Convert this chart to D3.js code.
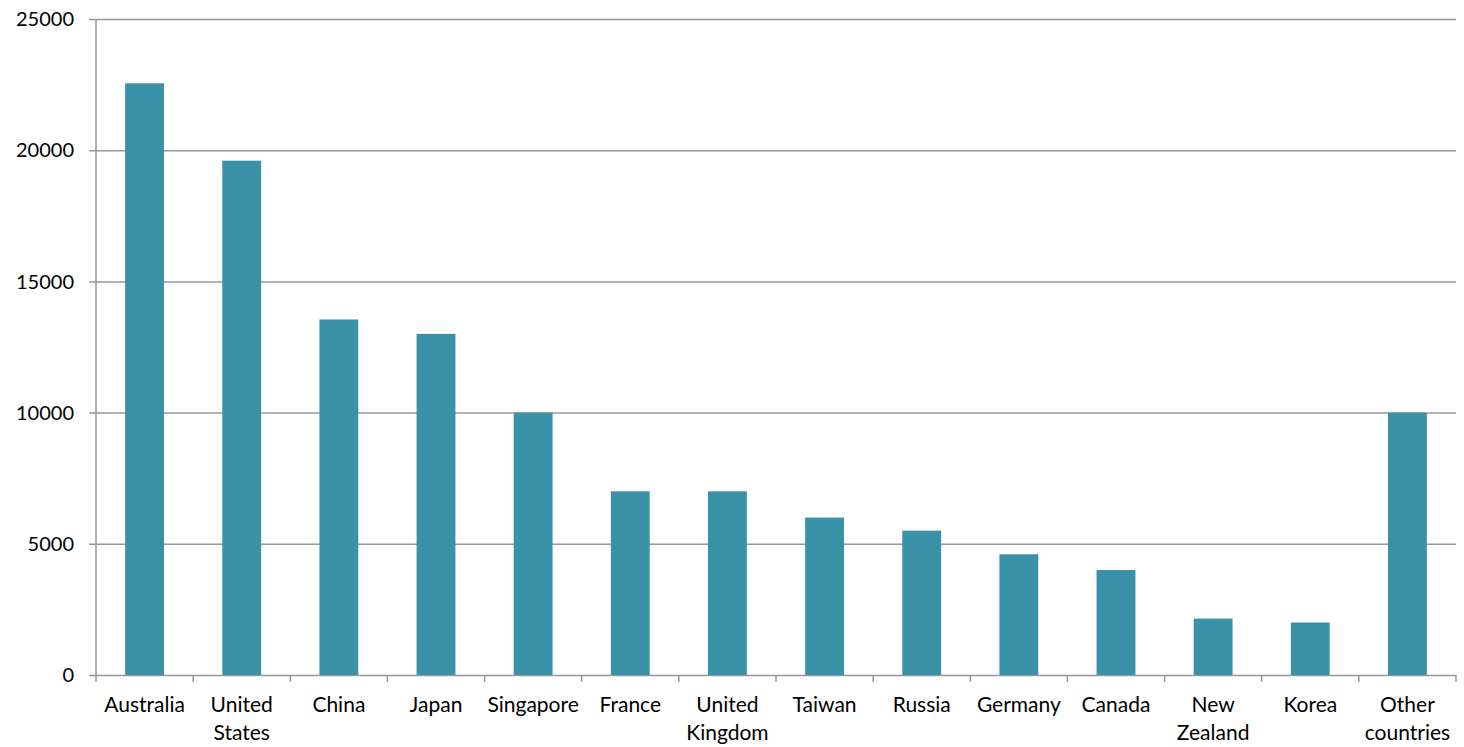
<!DOCTYPE html>
<meta charset="utf-8">
<style>
  body { margin: 0; background: #fff; }
  text { font-family: Lato, "Open Sans", sans-serif; fill: #000; }
</style>
<svg id="chart" width="1464" height="747"></svg>
<script src="https://d3js.org/d3.v7.min.js"></script>
<script>
var countries = ["Australia", "United States", "China", "Japan", "Singapore", "France", "United Kingdom",
  "Taiwan", "Russia", "Germany", "Canada", "New Zealand", "Korea", "Other countries"];
var labelLines = [["Australia"], ["United", "States"], ["China"], ["Japan"], ["Singapore"], ["France"],
  ["United", "Kingdom"], ["Taiwan"], ["Russia"], ["Germany"], ["Canada"], ["New", "Zealand"], ["Korea"],
  ["Other", "countries"]];
var values = [22550, 19600, 13550, 13000, 10000, 7000, 7000, 6000, 5500, 4600, 4000, 2150, 2000, 10000];
var yTicks = [0, 5000, 10000, 15000, 20000, 25000];

var margin = {top: 19, right: 8, bottom: 72, left: 96},
    width = 1464 - margin.left - margin.right,
    height = 747 - margin.top - margin.bottom;

var svg = d3.select("#chart")
  .append("g")
    .attr("transform", "translate(" + margin.left + "," + margin.top + ")");

var x = d3.scaleBand()
    .domain(countries)
    .range([0, width])
    .paddingInner(0.6)
    .paddingOuter(0.3);

var y = d3.scaleLinear()
    .domain([0, 25000])
    .range([height, 0]);

// gridlines
svg.append("g")
  .selectAll("line")
  .data(yTicks)
  .enter().append("line")
    .attr("x1", -7)
    .attr("x2", width)
    .attr("y1", function (d) { return y(d) + 0.5; })
    .attr("y2", function (d) { return y(d) + 0.5; })
    .attr("stroke", "#989898")
    .attr("stroke-width", 1.5);

// y labels
svg.append("g")
  .selectAll("text")
  .data(yTicks)
  .enter().append("text")
    .attr("x", -22)
    .attr("y", function (d) { return y(d); })
    .attr("dy", "0.36em")
    .attr("text-anchor", "end")
    .style("font-size", "20px")
    .text(function (d) { return d; });

// bars
svg.append("g")
  .selectAll("rect")
  .data(values)
  .enter().append("rect")
    .attr("x", function (d, i) { return x(countries[i]); })
    .attr("y", function (d) { return y(d); })
    .attr("width", x.bandwidth())
    .attr("height", function (d) { return height - y(d); })
    .attr("fill", "#3a92a8");

// axis line
svg.append("line")
    .attr("x1", 0).attr("x2", 0)
    .attr("y1", 0).attr("y2", height)
    .attr("stroke", "#989898").attr("stroke-width", 1.5);

// category tick marks between bands
var boundaries = d3.range(countries.length + 1).map(function (i) { return i * width / countries.length; });
svg.append("g")
  .selectAll("line")
  .data(boundaries)
  .enter().append("line")
    .attr("x1", function (d) { return d; })
    .attr("x2", function (d) { return d; })
    .attr("y1", height)
    .attr("y2", height + 7)
    .attr("stroke", "#989898")
    .attr("stroke-width", 1.5);

// category labels
var lbl = svg.append("g")
  .selectAll("text")
  .data(countries)
  .enter().append("text")
    .attr("x", function (d) { return x(d) + x.bandwidth() / 2; })
    .attr("y", height + 37)
    .attr("text-anchor", "middle")
    .style("font-size", "21px");

lbl.selectAll("tspan")
  .data(function (d, i) { return labelLines[i]; })
  .enter().append("tspan")
    .attr("x", function () { return d3.select(this.parentNode).attr("x"); })
    .attr("dy", function (d, j) { return j === 0 ? 0 : 28; })
    .text(function (d) { return d; });
</script>
